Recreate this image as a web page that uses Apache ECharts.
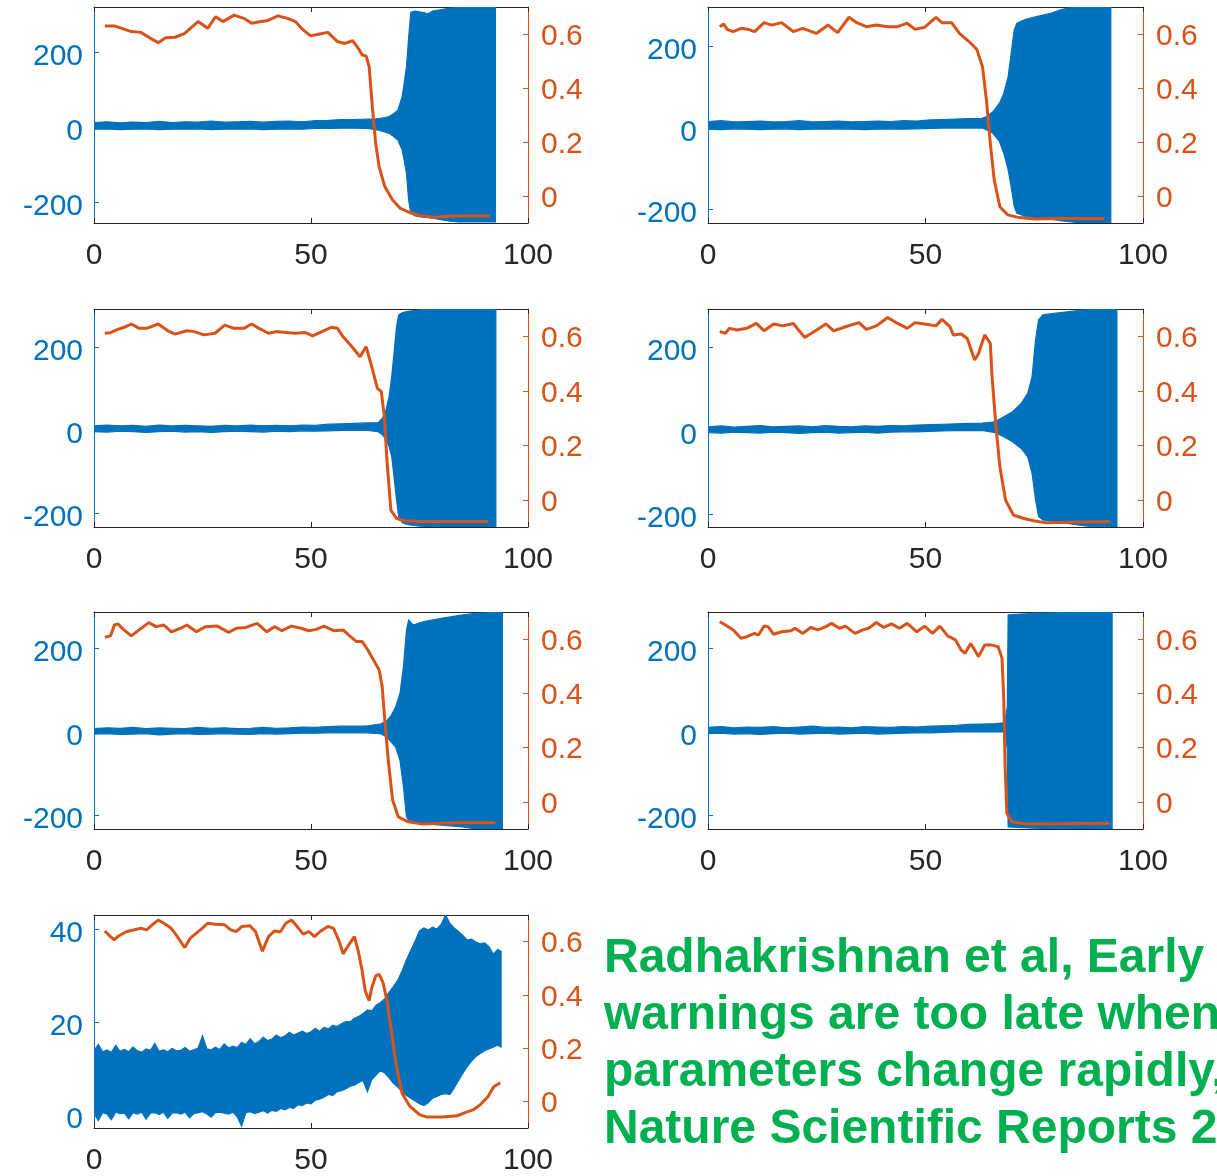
<!DOCTYPE html>
<html>
<head>
<meta charset="utf-8">
<script src="https://cdn.jsdelivr.net/npm/echarts@6/dist/echarts.min.js"></script>
<style>
html,body{margin:0;padding:0;background:#fff;}
#chart{width:1217px;height:1176px;}
</style>
</head>
<body>
<div id="chart"></div>
<script>
// ---------------- DATA ----------------
var xTicks = [0, 50, 100];
var leftTicksBig = [-200, 0, 200];
var leftTicksSmall = [0, 20, 40];
var rightTicks = [0, 0.2, 0.4, 0.6];

// Panel 1 (top left)
var b1x  = [0,3,6,9,12,15,18,21,24,27,30,33,36,39,42,45,48,51,54,57,60,63,65,66,67,68,69,70,71,71.5,72,72.5,73,74,76,77,78,80,82,84,88,92.5];
var b1hi = [13,15,12,14,13,16,13,15,14,17,14,15,16,14,16,17,15,18,19,21,21,22,23,24,26,29,36,46,82,120,162,240,307,310,306,303,310,314,318,321,321,321];
var b1lo = [-5,-4,-6,-5,-4,-6,-5,-5,-4,-6,-5,-5,-4,-6,-5,-4,-5,-3,-3,-2,-2,-3,-6,-9,-12,-16,-24,-34,-60,-90,-123,-194,-229,-236,-240,-241,-242,-246,-250,-252,-252,-252];
var o1x = [2.5,4.7,6.4,8.6,10.8,13,14.8,16.5,18.7,20.9,22.2,24,26.2,28,29.7,32.3,34.5,36.3,38.5,39.8,42.4,44.6,46.4,48.2,49.9,51.7,53.9,56.1,57.8,59.6,60.9,61.8,62.7,63.4,64,64.9,65.7,67,68.8,70.6,73.2,75.8,78.5,82,91.2];
var o1y = [0.630,0.630,0.621,0.609,0.606,0.584,0.568,0.586,0.588,0.602,0.621,0.646,0.621,0.664,0.646,0.670,0.658,0.640,0.646,0.649,0.667,0.658,0.646,0.615,0.593,0.599,0.606,0.572,0.565,0.575,0.547,0.522,0.519,0.479,0.356,0.195,0.109,0.035,-0.015,-0.046,-0.064,-0.074,-0.079,-0.074,-0.074];

// Panel 2 (top right)
var b2x  = [0,3,6,9,12,15,18,21,24,27,30,33,36,39,42,45,48,51,54,57,60,63,64,65.5,67,68,69,69.8,70.4,71,73,75,77,79,81,83,85,92.6];
var b2hi = [16,18,15,16,17,15,16,18,15,16,17,15,16,17,16,18,17,20,21,22,23,24,28,40,61,85,126,192,241,257,267,272,277,282,290,295,297,297];
var b2lo = [-3,-4,-2,-3,-4,-3,-2,-4,-3,-3,-2,-3,-4,-3,-2,-3,-2,-1,0,0,0,0,-4,-13,-33,-62,-102,-151,-192,-209,-217,-219,-221,-224,-227,-230,-232,-232];
var o2x = [2.7,3.6,4.4,5.8,7.6,9.3,10.7,12.9,14.7,16.9,19.6,21.8,24.9,27.6,29.8,32.4,34.2,36.4,38.7,41.3,43.6,45.8,47.6,49.8,52.4,53.8,56,57.8,60,61.8,63.1,64,64.9,65.8,67.1,68.9,71.6,75.1,82.2,91.1];
var o2y = [0.627,0.637,0.617,0.609,0.621,0.617,0.609,0.642,0.633,0.642,0.609,0.621,0.602,0.633,0.605,0.662,0.642,0.627,0.633,0.627,0.627,0.640,0.617,0.625,0.662,0.642,0.642,0.602,0.572,0.543,0.479,0.356,0.195,0.059,-0.040,-0.070,-0.080,-0.085,-0.083,-0.083];

// Panel 3 (middle left)
var b3x  = [0,3,6,9,12,15,18,21,24,27,30,33,36,39,42,45,48,51,54,57,60,63,65.5,66.5,67.3,68,68.6,69.2,69.7,70.2,71,72,75,80,92.6];
var b3hi = [10,12,10,11,9,12,10,11,10,9,11,10,12,10,11,10,12,11,14,15,16,17,18,29,49,81,129,193,249,278,283,286,290,292,292];
var b3lo = [-4,-5,-3,-4,-6,-4,-3,-5,-4,-6,-4,-3,-4,-5,-3,-4,-2,-3,-2,-1,-1,-1,-4,-12,-24,-40,-64,-120,-168,-208,-223,-228,-232,-234,-234];
var o3x = [2.5,3.8,5.5,7.3,8.6,10.4,12.1,14.8,17,18.7,21.4,23.1,25.3,27.9,30.1,32.3,34.5,36.3,38,40.2,42,44.2,46.4,48.6,50.4,52.5,54.7,56.1,57.4,59.1,61.3,62.7,64,65.3,66.2,66.9,67.5,68.4,69.7,71.4,75,90.8];
var o3y = [0.611,0.613,0.625,0.635,0.645,0.629,0.629,0.645,0.620,0.608,0.620,0.617,0.605,0.611,0.641,0.629,0.629,0.645,0.629,0.611,0.617,0.614,0.611,0.614,0.601,0.617,0.633,0.629,0.598,0.568,0.525,0.562,0.488,0.409,0.397,0.305,0.146,-0.038,-0.068,-0.077,-0.080,-0.080];

// Panel 4 (middle right)
var b4x  = [0,3,6,9,12,15,18,21,24,27,30,33,36,39,42,45,48,51,54,57,60,63,66,68,70,72,73.5,74.5,75.3,76,77,80,85,88,94];
var b4hi = [10,12,9,11,13,10,11,12,10,13,11,10,12,11,13,12,14,15,16,17,18,19,22,34,46,66,90,130,218,266,278,282,288,291,292];
var b4lo = [-4,-5,-3,-4,-5,-3,-4,-6,-4,-3,-5,-4,-3,-5,-3,-2,-2,-1,0,1,1,1,-4,-14,-26,-42,-62,-102,-165,-205,-213,-217,-225,-229,-230];
var o4x = [2.7,4,4.9,6.7,8.9,11.1,12.9,15.1,17.3,19.6,22.2,24,27.1,28.9,31.6,34.7,36.4,38.7,41.3,43.6,45.8,47.6,49.8,52.4,53.8,55.6,56.4,58.2,59.6,61.3,62.2,63.6,64.9,65.3,66.2,67.1,68.4,70.2,72.4,75.1,77.8,92.4];
var o4y = [0.617,0.611,0.629,0.623,0.629,0.647,0.620,0.645,0.638,0.647,0.596,0.613,0.645,0.620,0.635,0.650,0.625,0.638,0.669,0.647,0.629,0.650,0.645,0.638,0.662,0.635,0.605,0.608,0.592,0.513,0.537,0.605,0.574,0.452,0.268,0.121,-0.001,-0.056,-0.068,-0.078,-0.084,-0.080];

// Panel 5 (lower left)
var b5x  = [0,3,6,9,12,15,18,21,24,27,30,33,36,39,42,45,48,51,54,57,60,63,66,67.5,68.5,69.5,70.5,71.3,72,72.5,73.5,76,80,85,88,94.1];
var b5hi = [8,10,9,11,8,10,9,8,11,9,10,8,9,11,9,10,12,11,13,14,14,15,19,27,40,60,92,156,244,268,256,264,272,280,284,287];
var b5lo = [-5,-4,-6,-5,-4,-7,-5,-4,-6,-5,-4,-5,-6,-4,-5,-4,-3,-3,-2,-2,-2,-2,-4,-12,-24,-36,-68,-131,-203,-211,-218,-219,-223,-227,-232,-232];
var o5x = [2.5,3.8,4.7,5.5,6.9,8.6,10.4,12.6,14.3,16.1,17.8,20,21.4,23.6,25.7,28.4,31,32.8,35,37.6,39.8,41.6,43.3,45.5,47.7,49.5,51.2,53,55.2,57.4,58.7,60.5,61.8,63.1,64.4,65.7,66.4,67,67.8,68.8,70.1,72.3,75.8,83.7,92.5];
var o5y = [0.607,0.612,0.652,0.656,0.634,0.612,0.634,0.661,0.646,0.652,0.627,0.640,0.652,0.627,0.646,0.648,0.625,0.640,0.643,0.658,0.627,0.646,0.631,0.648,0.640,0.631,0.636,0.648,0.631,0.634,0.615,0.591,0.591,0.560,0.523,0.486,0.425,0.302,0.154,0.007,-0.055,-0.073,-0.082,-0.077,-0.077];

// Panel 6 (lower right)
var b6x  = [0,3,6,9,12,15,18,21,24,27,30,33,36,39,42,45,48,51,54,57,60,63,66,68.2,68.8,69,75,85,92.9];
var b6hi = [11,13,10,12,11,13,10,12,14,11,12,10,13,12,11,13,12,14,15,16,18,19,20,22,60,280,284,287,287];
var b6lo = [-4,-3,-5,-4,-6,-4,-3,-5,-4,-3,-5,-4,-3,-5,-4,-3,-2,-2,-1,0,0,0,0,0,-40,-227,-230,-232,-232];
var o6x = [2.7,4,5.8,7.6,8.9,10.7,11.6,12.9,13.8,15.1,16.9,19.1,20,21.8,23.6,25.3,27.1,28.4,30.2,31.6,33.8,35.6,36.9,38.7,40.4,42.2,44,45.8,48,49.8,51.6,53.3,55.1,56.9,58.2,59.1,60.4,62.2,63.6,65.3,66.7,67.6,68,68.3,68.7,69.8,73.3,92.4];
var o6y = [0.664,0.652,0.634,0.603,0.609,0.621,0.615,0.648,0.646,0.618,0.627,0.631,0.640,0.621,0.643,0.634,0.646,0.658,0.640,0.648,0.621,0.634,0.640,0.661,0.643,0.656,0.640,0.658,0.627,0.648,0.621,0.648,0.612,0.597,0.560,0.548,0.584,0.536,0.578,0.578,0.572,0.529,0.376,0.130,-0.042,-0.073,-0.082,-0.079];

// Panel 7 (bottom left)
var b7x  = [0,1,2,3,4,5,6,7,8,9,10,11,12,13,14,15,16,17,18,19,20,21,22,23,24,25,26,27,28,29,30,31,32,33,34,35,36,37,38,39,40,41,42,43,44,45,46,47,48,49,50,51,52,53,54,55,56,57,58,59,60,61,62,63,64,65,66,67,68,69,70,71,72,73,74,75,76,77,78,79,80,81,82,83,84,85,86,87,88,89,90,91,92,93,93.8];
var b7hi = [13.8,15.2,13.6,14.0,13.5,15.0,13.7,14.1,13.6,14.6,13.8,13.5,14.2,13.9,15.4,13.7,14.0,13.6,14.3,13.8,13.9,14.5,13.7,14.0,14.4,17.0,14.2,14.0,14.6,14.1,15.3,14.4,14.8,14.5,15.6,15.2,16.4,15.3,15.8,16.7,16.0,16.3,17.2,16.6,17.0,17.8,17.2,17.6,18.0,17.5,17.9,18.6,18.0,18.8,18.5,19.3,19.0,19.6,20.1,20.0,20.8,21.2,21.8,22.6,22.4,23.6,24.2,25.0,26.4,27.6,29.0,31.0,33.4,35.4,37.4,39.6,40.2,39.8,40.4,40.0,41.0,43.0,41.2,40.2,39.4,38.6,37.6,37.8,37.2,36.8,37.0,36.2,34.6,35.6,35.2];
var b7lo = [0.3,-1.2,0.5,0.2,-1.0,0.6,0.3,0.4,-0.8,0.5,0.2,0.6,-0.9,0.4,0.5,0.1,0.6,-0.7,0.4,0.5,0.2,0.6,-0.6,0.3,0.5,0.7,0.2,-0.5,0.5,0.6,0.4,0.2,0.6,-0.4,-2.4,0.5,0.7,0.3,0.6,0.9,0.4,1.0,0.8,1.4,1.1,1.6,1.4,2.2,2.0,2.6,2.4,3.2,3.4,3.8,4.4,4.2,5.0,5.2,5.6,6.2,6.4,7.0,7.4,5.0,7.6,8.6,9.6,9.0,8.0,6.8,6.0,5.0,4.2,3.6,3.0,2.4,2.0,2.6,3.6,4.0,4.4,4.6,4.4,5.8,7.4,9.0,10.4,11.6,12.6,13.2,13.8,14.2,14.6,15.0,14.6];
var o7x = [2.5,3.8,4.7,5.5,7.3,9.1,10.8,12.1,13.4,14.8,16.1,17.8,19.2,20.9,22.2,23.6,24.9,26.2,27.9,30.1,31.5,32.8,34.1,35.9,37.2,38.8,40.2,41.6,42.9,44.2,45.5,46.8,48.2,49.5,50.8,52.1,53.9,55.2,56.5,57.4,58.7,60,60.9,61.8,62.5,63.4,64,64.9,65.7,66.6,67.5,68.4,69.7,71,72.8,75,76.7,80.2,83.7,85.5,87.3,89,90.8,92.1,93.6];
var o7y = [0.640,0.619,0.607,0.619,0.636,0.644,0.650,0.644,0.663,0.681,0.669,0.650,0.619,0.578,0.613,0.632,0.650,0.669,0.665,0.663,0.644,0.638,0.657,0.660,0.638,0.564,0.619,0.640,0.636,0.669,0.681,0.657,0.628,0.638,0.619,0.638,0.657,0.650,0.601,0.554,0.588,0.619,0.564,0.489,0.415,0.378,0.427,0.471,0.477,0.446,0.378,0.278,0.129,0.030,-0.019,-0.050,-0.059,-0.059,-0.054,-0.042,-0.032,-0.013,0.018,0.055,0.070];

var noteLines = [
  'Radhakrishnan et al, Early',
  'warnings are too late when',
  'parameters change rapidly,',
  'Nature Scientific Reports 2'
];

// ---------------- BUILD ----------------
var BLUE = '#0072BD', ORANGE = '#D95319', GRAY = '#262626';
var FONT = "'Liberation Sans', Arial, Helvetica, sans-serif";

var panels = [
  {bx:b1x, hi:b1hi, lo:b1lo, ox:o1x, oy:o1y, lmin:-255, lmax:321, lt:leftTicksBig},
  {bx:b2x, hi:b2hi, lo:b2lo, ox:o2x, oy:o2y, lmin:-233, lmax:297, lt:leftTicksBig},
  {bx:b3x, hi:b3hi, lo:b3lo, ox:o3x, oy:o3y, lmin:-234, lmax:292, lt:leftTicksBig},
  {bx:b4x, hi:b4hi, lo:b4lo, ox:o4x, oy:o4y, lmin:-230, lmax:292, lt:leftTicksBig},
  {bx:b5x, hi:b5hi, lo:b5lo, ox:o5x, oy:o5y, lmin:-232, lmax:287, lt:leftTicksBig},
  {bx:b6x, hi:b6hi, lo:b6lo, ox:o6x, oy:o6y, lmin:-232, lmax:287, lt:leftTicksBig},
  {bx:b7x, hi:b7hi, lo:b7lo, ox:o7x, oy:o7y, lmin:-2.8, lmax:43, lt:leftTicksSmall}
];

var gridBoxes = [
  {left:94, top:7, width:434, height:216},
  {left:708, top:7, width:435, height:216},
  {left:94, top:309, width:434, height:218},
  {left:708, top:309, width:435, height:218},
  {left:94, top:612, width:434, height:217},
  {left:708, top:612, width:435, height:217},
  {left:94, top:915, width:434, height:215}
];

var grid = [], xAxis = [], yAxis = [], series = [];

panels.forEach(function (p, i) {
  grid.push(gridBoxes[i]);
  xAxis.push({
    type:'value', gridIndex:i, min:0, max:100, position:'bottom',
    axisLine:{show:true, onZero:false, lineStyle:{color:GRAY, width:1}},
    axisTick:{show:true, inside:true, length:5, customValues:xTicks, lineStyle:{color:GRAY}},
    axisLabel:{show:true, customValues:xTicks, margin:18, color:GRAY, fontSize:30, fontFamily:FONT},
    splitLine:{show:false}
  });
  xAxis.push({
    type:'value', gridIndex:i, min:0, max:100, position:'top',
    axisLine:{show:true, onZero:false, lineStyle:{color:GRAY, width:1}},
    axisTick:{show:true, inside:true, length:5, customValues:xTicks, lineStyle:{color:GRAY}},
    axisLabel:{show:false},
    splitLine:{show:false}
  });
  yAxis.push({
    type:'value', gridIndex:i, min:p.lmin, max:p.lmax, position:'left',
    axisLine:{show:true, onZero:false, lineStyle:{color:BLUE, width:1}},
    axisTick:{show:true, inside:true, length:5, customValues:p.lt, lineStyle:{color:BLUE}},
    axisLabel:{show:true, customValues:p.lt, margin:11, color:BLUE, fontSize:30, fontFamily:FONT,
      verticalAlign:'top', lineHeight:9},
    splitLine:{show:false}
  });
  yAxis.push({
    type:'value', gridIndex:i, min:-0.1, max:0.7, position:'right',
    axisLine:{show:true, onZero:false, lineStyle:{color:ORANGE, width:1}},
    axisTick:{show:true, inside:true, length:5, customValues:rightTicks, lineStyle:{color:ORANGE}},
    axisLabel:{show:true, customValues:rightTicks, margin:13, color:ORANGE, fontSize:30, fontFamily:FONT,
      verticalAlign:'top', lineHeight:5,
      formatter:function (v) { return String(Math.round(v*10)/10); }},
    splitLine:{show:false}
  });

  (function (bx, hi, lo) {
    series.push({
      type:'custom', xAxisIndex:2*i, yAxisIndex:2*i, clip:true, silent:true,
      data:[[bx[0], lo[0]]],
      renderItem:function (params, api) {
        var pts = [], k;
        for (k = 0; k < bx.length; k++) pts.push(api.coord([bx[k], hi[k]]));
        for (k = bx.length - 1; k >= 0; k--) pts.push(api.coord([bx[k], lo[k]]));
        return {type:'polygon', shape:{points:pts},
          style:{fill:BLUE, stroke:BLUE, lineWidth:1.2, lineJoin:'miter'}};
      }
    });
  })(p.bx, p.hi, p.lo);

  series.push({
    type:'line', xAxisIndex:2*i, yAxisIndex:2*i+1, showSymbol:false, symbol:'none',
    data:p.ox.map(function (x, k) { return [x, p.oy[k]]; }),
    lineStyle:{color:ORANGE, width:3}, z:5, silent:true
  });
});

var graphic = noteLines.map(function (t, k) {
  return {
    type:'text', left:604, top:935 + k*57, silent:true,
    style:{text:t, fill:'#00B050', font:'bold 48px ' + FONT}
  };
});

var chart = echarts.init(document.getElementById('chart'), null, {renderer:'canvas', width:1217, height:1176});
chart.setOption({
  animation:false,
  backgroundColor:'#ffffff',
  grid:grid, xAxis:xAxis, yAxis:yAxis, series:series, graphic:graphic
});
</script>
</body>
</html>
